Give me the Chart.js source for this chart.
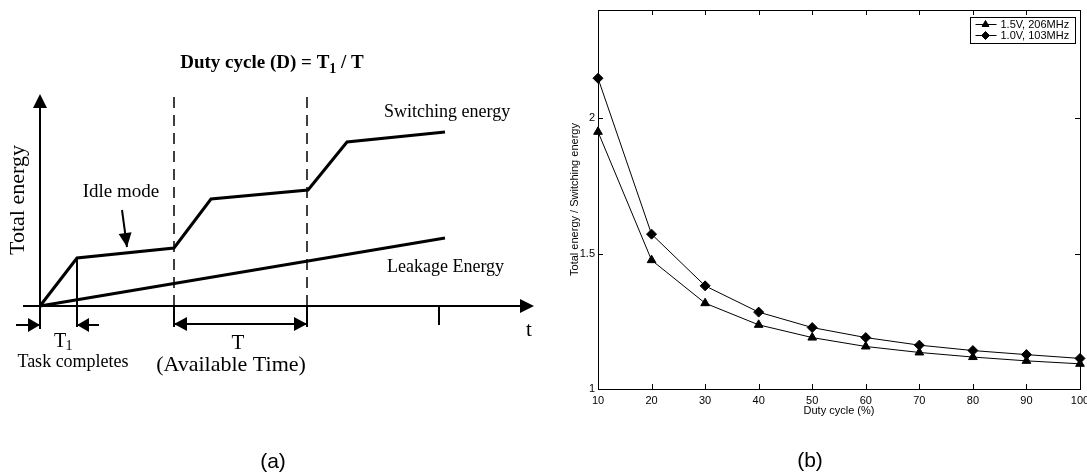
<!DOCTYPE html>
<html>
<head>
<meta charset="utf-8">
<script src="https://cdn.jsdelivr.net/npm/chart.js@4.4.0/dist/chart.umd.min.js"></script>
<style>
  html, body { margin: 0; padding: 0; background: #fff; }
  #wrap { position: relative; width: 1087px; height: 476px; }
  #diag { position: absolute; left: 0; top: 0; }
  #ratio { position: absolute; left: 540px; top: 0; }
</style>
</head>
<body>
<div id="wrap">
  <canvas id="diag" width="540" height="476"></canvas>
  <canvas id="ratio" width="547" height="476"></canvas>
</div>
<script>
// ---- (a) schematic, in diagram units (time, energy) ----
var switchTime = [0, 37, 134, 171, 268, 307, 405];
var switchEnergy = [0, 48, 58, 107, 116, 164, 174];
var leakTime = [0, 405];
var leakEnergy = [0, 68];
var periodEdges = [134, 267];

// ---- (b) measured ratio ----
var dutyCycle = [10, 20, 30, 40, 50, 60, 70, 80, 90, 100];
var ratio15V = [1.95, 1.476, 1.317, 1.237, 1.19, 1.157, 1.135, 1.118, 1.104, 1.093];
var ratio10V = [2.148, 1.572, 1.381, 1.284, 1.227, 1.19, 1.162, 1.142, 1.127, 1.113];
var seriesLabels = ['1.5V, 206MHz', '1.0V, 103MHz'];
var yTicks = [1, 1.5, 2];

var SERIF = '"Liberation Serif", "Times New Roman", serif';
var SANS = '"Liberation Sans", Arial, sans-serif';

function zip(xs, ys) {
  return xs.map(function (x, i) { return { x: x, y: ys[i] }; });
}

function seg(t0, e0, t1, e1, width, dash) {
  return {
    data: [{ x: t0, y: e0 }, { x: t1, y: e1 }],
    borderColor: '#000', borderWidth: width, borderDash: dash || [],
    pointRadius: 0, tension: 0, borderCapStyle: 'butt', clip: false
  };
}

// filled arrow head, tip at (x, y), pointing along ang
function head(ctx, x, y, ang, len, wid) {
  var c = Math.cos(ang), s = Math.sin(ang);
  ctx.beginPath();
  ctx.moveTo(x, y);
  ctx.lineTo(x - len * c - wid / 2 * s, y - len * s + wid / 2 * c);
  ctx.lineTo(x - len * c + wid / 2 * s, y - len * s - wid / 2 * c);
  ctx.closePath();
  ctx.fill();
}

function arrow(ctx, x0, y0, x1, y1, len, wid, both) {
  var ang = Math.atan2(y1 - y0, x1 - x0);
  ctx.beginPath();
  ctx.moveTo(x0, y0);
  ctx.lineTo(x1, y1);
  ctx.stroke();
  head(ctx, x1, y1, ang, len, wid);
  if (both) head(ctx, x0, y0, ang + Math.PI, len, wid);
}

var diagramPlugin = {
  id: 'diagramMarks',
  afterDatasetsDraw: function (chart) {
    var ctx = chart.ctx, xs = chart.scales.x, ys = chart.scales.y;
    var X = function (t) { return xs.getPixelForValue(t); };
    var Y = function (e) { return ys.getPixelForValue(e); };
    ctx.save();
    ctx.fillStyle = '#000';
    ctx.strokeStyle = '#000';
    ctx.lineWidth = 2;

    // axis heads
    head(ctx, X(0), Y(212), -Math.PI / 2, 14, 14);
    head(ctx, X(494), Y(0), 0, 14, 14);

    // T1 markers and T span
    arrow(ctx, X(-24), Y(-19), X(0), Y(-19), 12, 14);
    arrow(ctx, X(59), Y(-19), X(37), Y(-19), 12, 14);
    arrow(ctx, X(periodEdges[0]), Y(-18), X(periodEdges[1]), Y(-18), 13, 14, true);

    // idle mode pointer
    arrow(ctx, X(82), Y(96), X(87), Y(59), 14, 13);

    // text
    ctx.textBaseline = 'middle';
    ctx.textAlign = 'left';

    // title with subscript
    var big = 'bold 19px ' + SERIF, small = 'bold 14px ' + SERIF;
    var p1 = 'Duty cycle (D) = T', p2 = '1', p3 = ' / T';
    ctx.font = big; var w1 = ctx.measureText(p1).width, w3 = ctx.measureText(p3).width;
    ctx.font = small; var w2 = ctx.measureText(p2).width;
    var tx = X(232) - (w1 + w2 + w3) / 2, ty = Y(243);
    ctx.font = big; ctx.fillText(p1, tx, ty);
    ctx.font = small; ctx.fillText(p2, tx + w1, ty + 6);
    ctx.font = big; ctx.fillText(p3, tx + w1 + w2, ty);

    ctx.font = '18px ' + SERIF;
    ctx.fillText('Switching energy', X(344), Y(194));
    ctx.fillText('Leakage Energy', X(347), Y(39));

    ctx.textAlign = 'center';
    ctx.font = '19px ' + SERIF;
    ctx.fillText('Idle mode', X(81), Y(114));
    ctx.font = '18px ' + SERIF;
    ctx.fillText('Task completes', X(33), Y(-56));
    ctx.font = '22px ' + SERIF;
    ctx.fillText('(Available Time)', X(191), Y(-59));
    ctx.font = '21px ' + SERIF;
    ctx.fillText('T', X(198), Y(-37));
    ctx.fillText('t', X(489), Y(-24));

    ctx.font = '20px ' + SERIF;
    ctx.fillText('T', X(20), Y(-36));
    ctx.font = '14px ' + SERIF;
    ctx.fillText('1', X(29), Y(-40));

    ctx.save();
    ctx.translate(X(-22), Y(106));
    ctx.rotate(-Math.PI / 2);
    ctx.font = '22px ' + SERIF;
    ctx.fillText('Total energy', 0, 0);
    ctx.restore();

    ctx.font = '21px ' + SANS;
    ctx.fillText('(a)', X(233), Y(-156));
    ctx.restore();
  }
};

new Chart(document.getElementById('diag'), {
  type: 'line',
  data: {
    datasets: [
      { data: zip(switchTime, switchEnergy), borderColor: '#000', borderWidth: 3, pointRadius: 0, tension: 0, clip: false },
      { data: zip(leakTime, leakEnergy), borderColor: '#000', borderWidth: 3, pointRadius: 0, tension: 0, clip: false },
      seg(0, -23, 0, 199, 2),
      seg(-17, 0, 482, 0, 2),
      seg(periodEdges[0], 0, periodEdges[0], 213, 1.5, [11, 7]),
      seg(periodEdges[1], 0, periodEdges[1], 213, 1.5, [11, 7]),
      seg(periodEdges[0], 0, periodEdges[0], -21, 2),
      seg(periodEdges[1], 0, periodEdges[1], -21, 2),
      seg(switchTime[1], switchEnergy[1], switchTime[1], -21, 2),
      seg(399, 0, 399, -19, 2)
    ]
  },
  options: {
    responsive: false,
    animation: false,
    devicePixelRatio: 1,
    layout: { padding: 0 },
    scales: {
      x: { type: 'linear', min: -40, max: 500, display: false },
      y: { type: 'linear', min: -170, max: 306, display: false }
    },
    plugins: { legend: { display: false }, tooltip: { enabled: false } }
  },
  plugins: [diagramPlugin]
});

// ---- (b) ----
var framePlugin = {
  id: 'matlabFrame',
  afterDraw: function (chart) {
    var ctx = chart.ctx, a = chart.chartArea;
    var xs = chart.scales.x, ys = chart.scales.y;
    ctx.save();
    ctx.strokeStyle = '#000';
    ctx.lineWidth = 1;
    ctx.strokeRect(Math.round(a.left) + 0.5, Math.round(a.top) + 0.5,
      Math.round(a.right - a.left), Math.round(a.bottom - a.top));
    ctx.beginPath();
    xs.ticks.forEach(function (t) {
      var x = Math.round(xs.getPixelForValue(t.value)) + 0.5;
      ctx.moveTo(x, a.bottom); ctx.lineTo(x, a.bottom - 5);
      ctx.moveTo(x, a.top); ctx.lineTo(x, a.top + 5);
    });
    ys.ticks.forEach(function (t) {
      var y = Math.round(ys.getPixelForValue(t.value)) + 0.5;
      ctx.moveTo(a.left, y); ctx.lineTo(a.left + 5, y);
      ctx.moveTo(a.right, y); ctx.lineTo(a.right - 5, y);
    });
    ctx.stroke();

    // legend box
    var bx = 430.5, by = 17.5, bw = 105, bh = 26;
    ctx.fillStyle = '#fff';
    ctx.fillRect(bx, by, bw, bh);
    ctx.strokeRect(bx, by, bw, bh);
    ctx.font = '11px ' + SANS;
    ctx.textBaseline = 'middle';
    ctx.textAlign = 'left';
    chart.data.datasets.forEach(function (ds, i) {
      var ly = by + 7 + i * 11;
      ctx.strokeStyle = '#000';
      ctx.fillStyle = '#000';
      ctx.beginPath();
      ctx.moveTo(bx + 5, ly); ctx.lineTo(bx + 26, ly);
      ctx.stroke();
      Chart.helpers.drawPoint(ctx, { pointStyle: ds.pointStyle, radius: 4, rotation: 0, borderWidth: 1 }, bx + 15, ly);
      ctx.fillText(ds.label, bx + 30, ly + 0.5);
    });

    ctx.font = '21px ' + SANS;
    ctx.textAlign = 'center';
    ctx.fillText('(b)', 270, 461);
    ctx.restore();
  }
};

new Chart(document.getElementById('ratio'), {
  type: 'line',
  data: {
    labels: dutyCycle,
    datasets: [
      { label: seriesLabels[0], data: zip(dutyCycle, ratio15V), pointStyle: 'triangle' },
      { label: seriesLabels[1], data: zip(dutyCycle, ratio10V), pointStyle: 'rectRot' }
    ].map(function (d) {
      d.borderColor = '#000';
      d.backgroundColor = '#000';
      d.pointBackgroundColor = '#000';
      d.borderWidth = 1;
      d.pointRadius = 5;
      d.tension = 0;
      d.clip = false;
      return d;
    })
  },
  options: {
    responsive: false,
    animation: false,
    devicePixelRatio: 1,
    layout: { padding: { left: 0, right: 7, top: 10, bottom: 0 } },
    scales: {
      x: {
        type: 'linear', min: 10, max: 100,
        grid: { display: false, drawTicks: false },
        border: { display: false },
        ticks: { stepSize: 10, color: '#000', padding: 5, maxRotation: 0, font: { family: SANS, size: 11 } },
        title: { display: true, text: 'Duty cycle (%)', color: '#000', font: { family: SANS, size: 11 }, padding: { top: 0, bottom: 58 } },
        afterFit: function (s) { s.height = 87; s.paddingLeft = 0; s.paddingRight = 0; }
      },
      y: {
        type: 'linear', min: 1, max: 2.4,
        grid: { display: false, drawTicks: false },
        border: { display: false },
        afterBuildTicks: function (s) { s.ticks = yTicks.map(function (v) { return { value: v }; }); },
        ticks: { color: '#000', padding: 3, font: { family: SANS, size: 11 }, callback: function (v) { return String(v); } },
        title: { display: true, text: 'Total energy / Switching energy', color: '#000', font: { family: SANS, size: 11 }, padding: { top: 28, bottom: 0 } },
        afterFit: function (s) { s.width = 58; s.paddingTop = 0; s.paddingBottom = 0; }
      }
    },
    plugins: { legend: { display: false }, tooltip: { enabled: false } }
  },
  plugins: [framePlugin]
});
</script>
</body>
</html>
